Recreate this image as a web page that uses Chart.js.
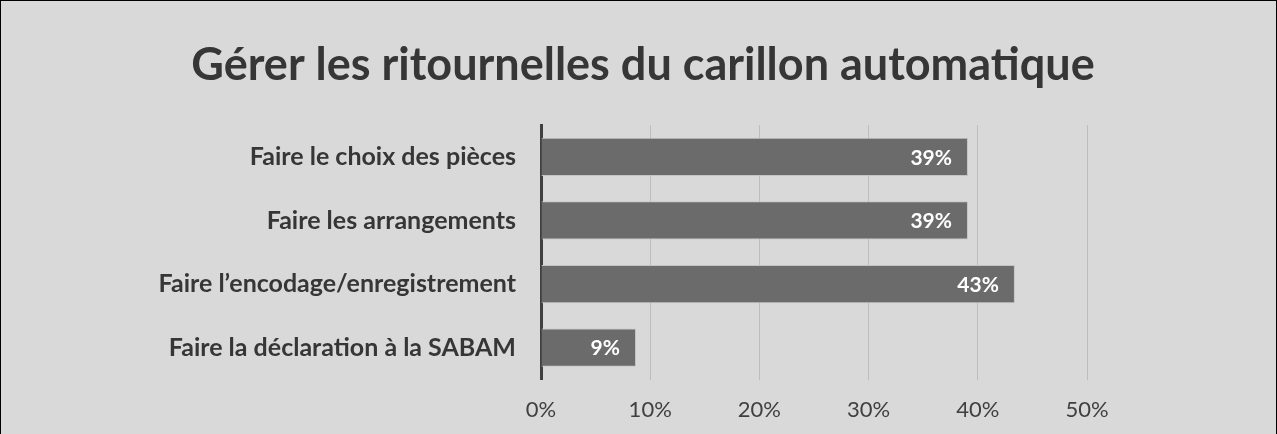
<!DOCTYPE html>
<html>
<head>
<meta charset="utf-8">
<script src="https://cdn.jsdelivr.net/npm/chart.js@4/dist/chart.umd.min.js"></script>
<style>
  html, body { margin: 0; padding: 0; background: #d9d9d9; }
  #wrap { width: 1277px; height: 434px; }
</style>
</head>
<body>
<div id="wrap"><canvas id="myChart" width="1277" height="434"></canvas></div>
<script>
const titleText = 'Gérer les ritournelles du carillon automatique';

const labels = [
    'Faire le choix des pièces',
    'Faire les arrangements',
    'Faire l\u2019encodage/enregistrement',
    'Faire la déclaration à la SABAM'
];

// part des répondants (%)
const values = [39.1, 39.1, 43.4, 8.7];

const xTicks = [0, 10, 20, 30, 40, 50];

// fond gris, cadre noir et titre
const frame = {
    id: 'frame',
    beforeDraw(chart) {
        const ctx = chart.ctx;
        ctx.save();
        ctx.fillStyle = '#d9d9d9';
        ctx.fillRect(0, 0, chart.width, chart.height);
        ctx.strokeStyle = '#000';
        ctx.lineWidth = 1;
        ctx.strokeRect(0.5, 0.5, chart.width - 1, chart.height + 5);
        ctx.fillStyle = '#363636';
        ctx.font = 'bold 45px Lato';
        ctx.textAlign = 'center';
        ctx.textBaseline = 'alphabetic';
        ctx.fillText(titleText, 643, 80);
        ctx.restore();
    }
};

// étiquettes blanches au bout des barres
const barLabels = {
    id: 'barLabels',
    afterDatasetsDraw(chart) {
        const ctx = chart.ctx;
        const meta = chart.getDatasetMeta(0);
        ctx.save();
        ctx.fillStyle = '#ffffff';
        ctx.font = 'bold 21px Lato';
        ctx.textAlign = 'right';
        ctx.textBaseline = 'middle';
        meta.data.forEach(function(bar, i) {
            ctx.fillText(Math.round(values[i]) + '%', bar.x - 16, bar.y + 1);
        });
        ctx.restore();
    }
};

const config = {
    type: 'bar',
    data: {
        labels: labels,
        datasets: [{
            data: values,
            backgroundColor: '#6b6b6b',
            borderColor: '#c4c4c4',
            borderWidth: 1,
            categoryPercentage: 1,
            barPercentage: 0.6
        }]
    },
    options: {
        indexAxis: 'y',
        responsive: false,
        animation: false,
        layout: { padding: { left: 0, right: 190, top: 125, bottom: 0 } },
        plugins: {
            legend: { display: false },
            tooltip: { enabled: false },
            title: { display: false }
        },
        scales: {
            x: {
                min: 0,
                max: 50,
                afterBuildTicks(scale) {
                    scale.ticks = xTicks.map(v => ({ value: v }));
                },
                afterFit(scale) { scale.height = 54.5; },
                ticks: {
                    callback: v => v + '%',
                    color: '#404040',
                    font: { family: 'Lato', size: 22 },
                    padding: 17
                },
                grid: { color: '#bdbdbd', lineWidth: 1, drawTicks: false },
                border: { display: false }
            },
            y: {
                afterFit(scale) { scale.width = 541; },
                ticks: {
                    color: '#363636',
                    font: { family: 'Lato', size: 25, weight: 'bold' },
                    padding: 25
                },
                grid: { display: false, drawTicks: false },
                border: { display: true, color: '#404040', width: 3 }
            }
        }
    },
    plugins: [frame, barLabels]
};

const myChart = new Chart(document.getElementById('myChart'), config);
</script>
</body>
</html>
